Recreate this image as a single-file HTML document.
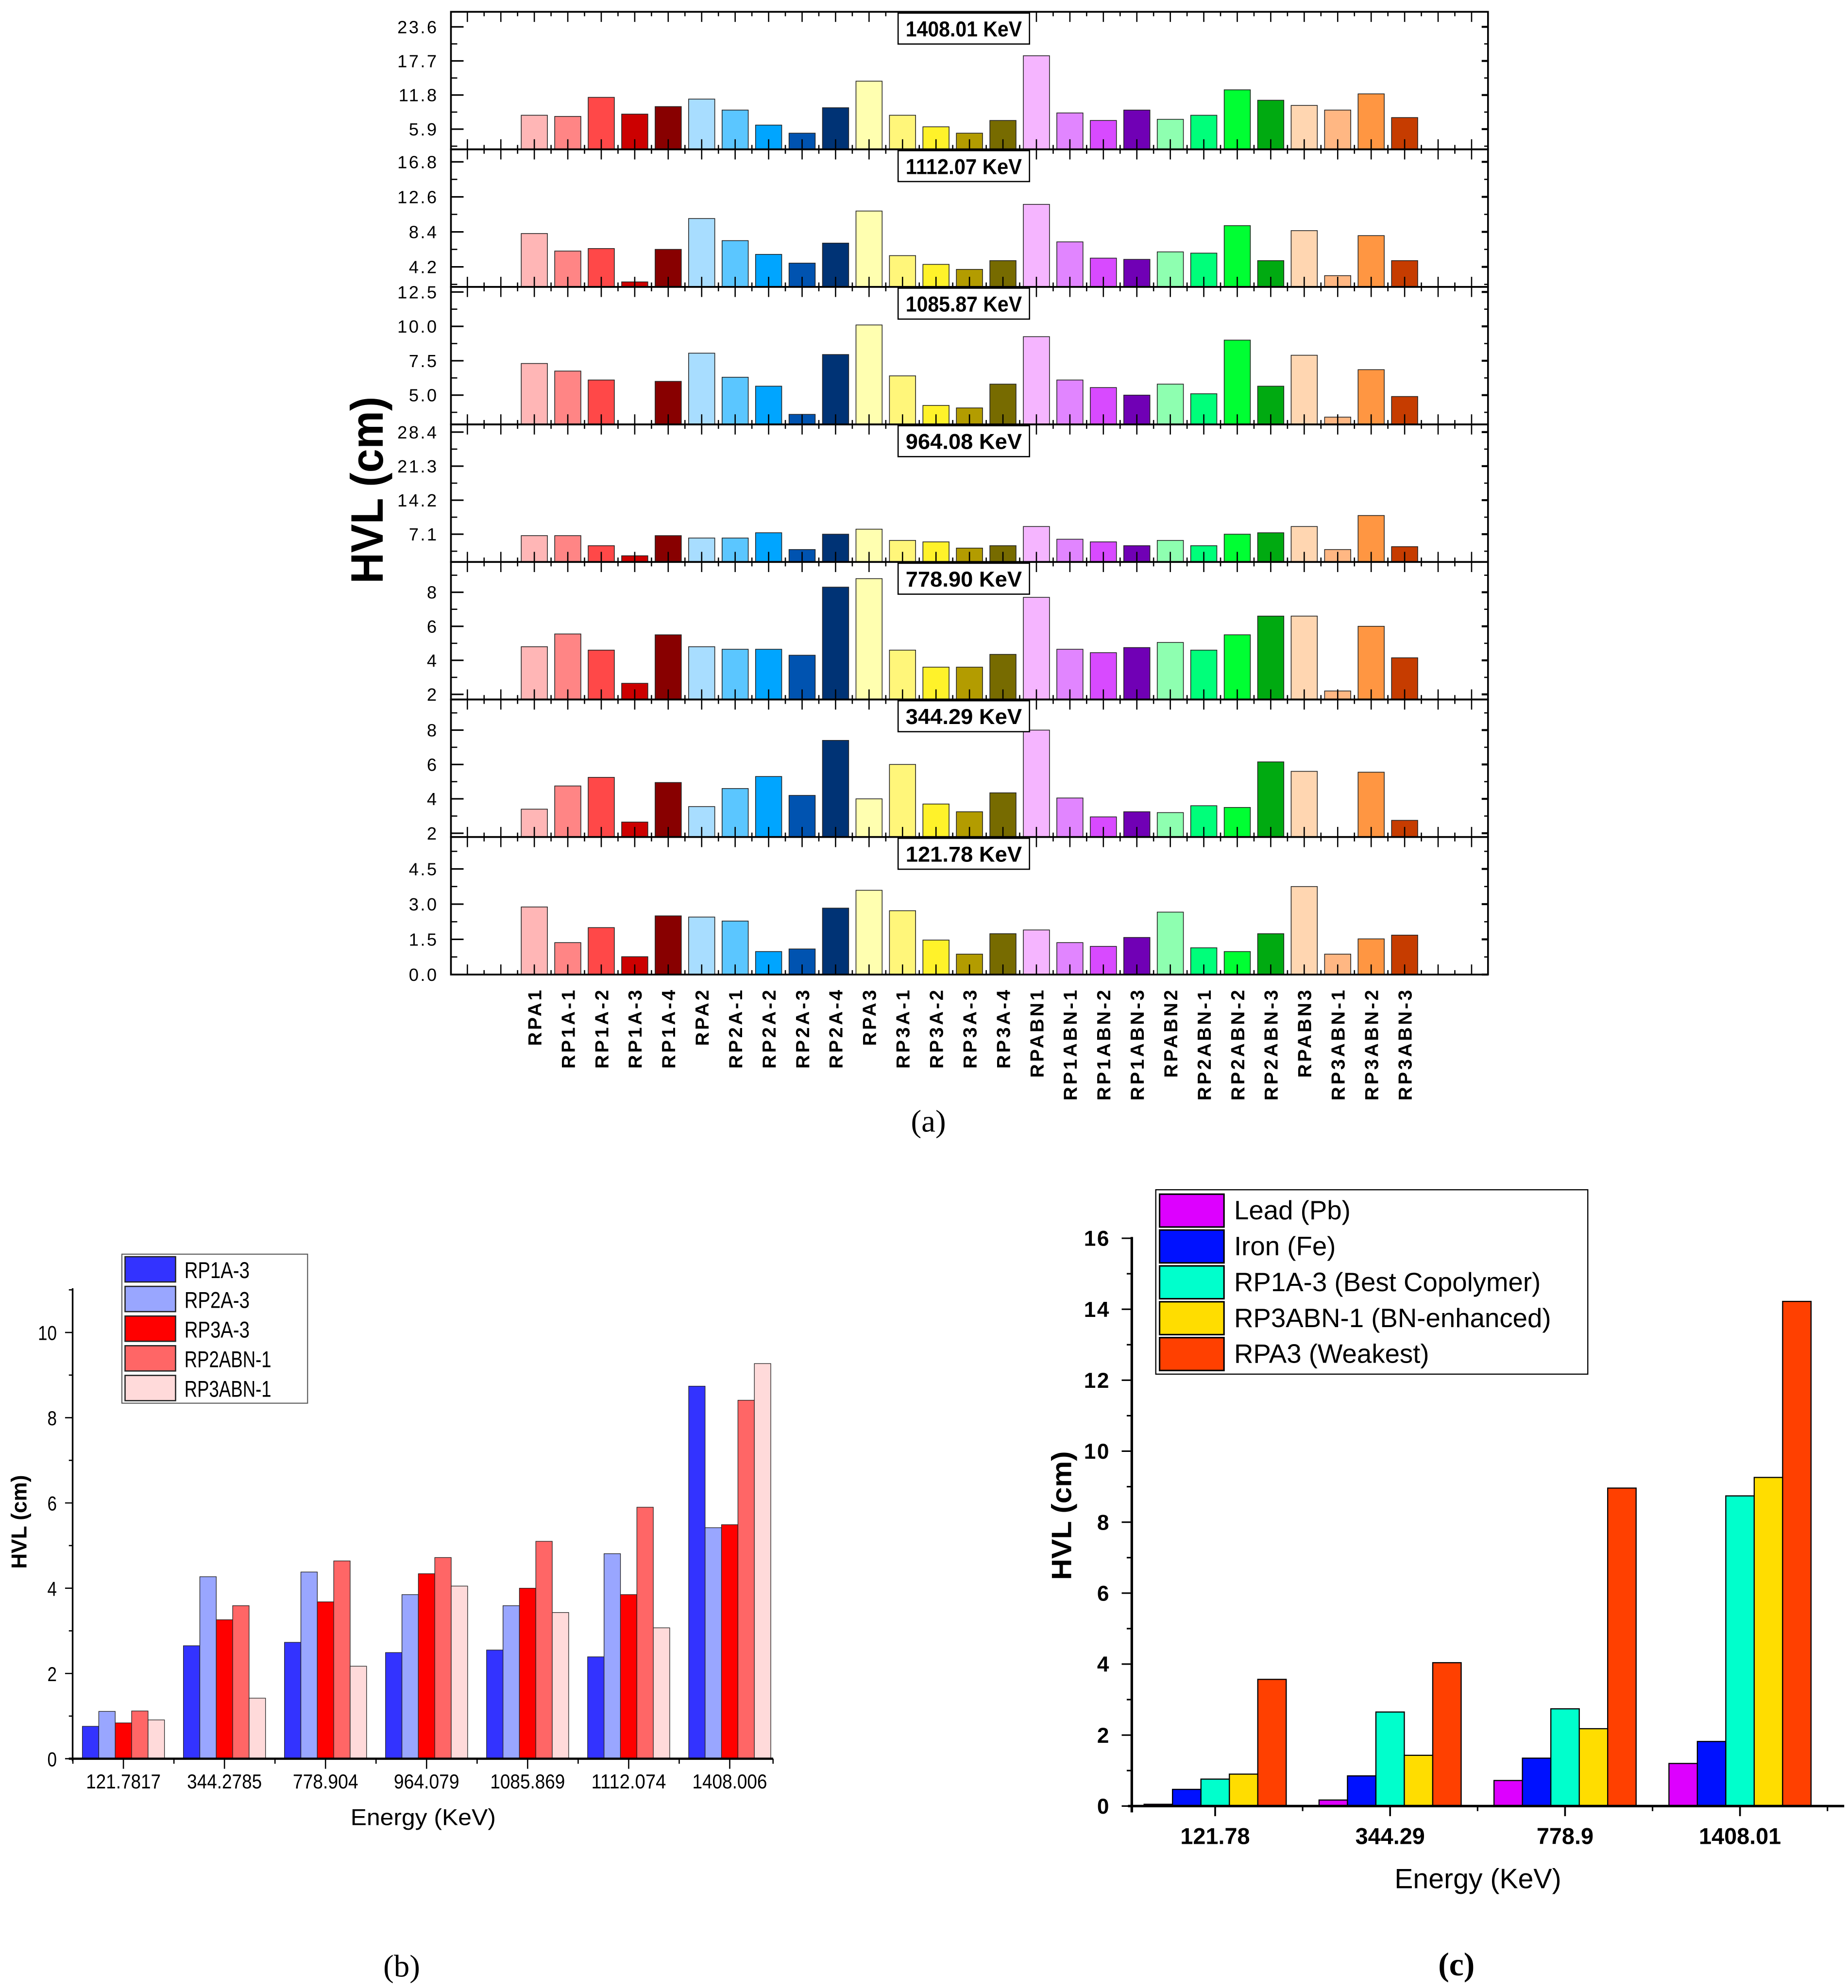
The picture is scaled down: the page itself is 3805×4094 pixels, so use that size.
<!DOCTYPE html>
<html><head><meta charset="utf-8">
<style>
html,body{margin:0;padding:0;background:#fff;}
svg{display:block;}
text{font-family:"Liberation Sans",sans-serif;fill:#000;}
</style></head>
<body>
<svg id="fig" xmlns="http://www.w3.org/2000/svg" width="3805" height="4094" viewBox="0 0 1463 1574">
<rect x="0" y="0" width="1463" height="1574" fill="#fff"/>
</svg>
<script>
// ---------- Panel (a) data ----------
const catsA = ["RPA1","RP1A-1","RP1A-2","RP1A-3","RP1A-4","RPA2","RP2A-1","RP2A-2","RP2A-3","RP2A-4","RPA3","RP3A-1","RP3A-2","RP3A-3","RP3A-4","RPABN1","RP1ABN-1","RP1ABN-2","RP1ABN-3","RPABN2","RP2ABN-1","RP2ABN-2","RP2ABN-3","RPABN3","RP3ABN-1","RP3ABN-2","RP3ABN-3"];
const colorsA = ["#ffb6b6","#ff8585","#ff4848","#cc0000","#880000","#a8ddff","#5bc6ff","#00a5ff","#0053b0","#003375","#ffffb0","#fff67a","#fff22a","#b39c00","#776b00","#f5b5ff","#e185ff","#d84aff","#7000b5","#8effb0","#00ff7a","#00ff33","#00aa11","#ffd6b1","#ffb783","#ff9642","#c63c00"];
const panelTitles = ["1408.01 KeV","1112.07 KeV","1085.87 KeV","964.08 KeV","778.90 KeV","344.29 KeV","121.78 KeV"];
const panelMin = [2.4, 1.8, 2.87, 1.31, 1.7, 1.78, 0];
const panelMax = [26.2, 18.3, 12.87, 30.0, 9.78, 9.78, 5.86];
const ticks0 = ["5.9","11.8","17.7","23.6"];
const ticks1 = ["4.2","8.4","12.6","16.8"];
const ticks2 = ["5.0","7.5","10.0","12.5"];
const ticks3 = ["7.1","14.2","21.3","28.4"];
const ticks4 = ["2","4","6","8"];
const ticks5 = ["2","4","6","8"];
const ticks6 = ["0.0","1.5","3.0","4.5"];
const vals1408 = [8.3,8.1,11.4,8.5,9.8,11.1,9.2,6.6,5.2,9.6,14.2,8.3,6.3,5.2,7.4,18.6,8.7,7.4,9.2,7.6,8.3,12.7,10.9,10.0,9.2,12.0,7.9];
const vals1112 = [8.2,6.1,6.4,2.4,6.3,10.0,7.35,5.7,4.65,7.05,10.9,5.55,4.5,3.9,4.95,11.7,7.2,5.25,5.1,6.0,5.85,9.15,4.95,8.55,3.15,7.95,4.95];
const vals1085 = [7.3,6.75,6.1,2.5,6.0,8.05,6.3,5.65,3.6,7.95,10.1,6.4,4.25,4.07,5.8,9.25,6.1,5.55,5.0,5.8,5.1,9.0,5.65,7.9,3.4,6.85,4.9];
const vals964 = [6.8,6.8,4.7,2.6,6.8,6.3,6.3,7.4,3.9,7.1,8.15,5.8,5.5,4.2,4.7,8.7,6.05,5.5,4.7,5.8,4.7,7.1,7.4,8.7,3.9,11.0,4.5];
const vals778 = [4.8,5.55,4.6,2.65,5.5,4.8,4.65,4.65,4.3,8.3,8.8,4.6,3.6,3.6,4.35,7.7,4.65,4.45,4.75,5.05,4.6,5.5,6.6,6.6,2.2,6.0,4.15];
const vals344 = [3.4,4.75,5.25,2.65,4.95,3.55,4.6,5.3,4.2,7.4,4.0,6.0,3.7,3.25,4.35,8.0,4.05,2.95,3.25,3.2,3.6,3.5,6.15,5.6,1.5,5.55,2.75];
const vals121 = [2.88,1.36,2.0,0.76,2.5,2.45,2.28,0.98,1.09,2.83,3.59,2.72,1.47,0.87,1.74,1.9,1.36,1.2,1.58,2.66,1.14,0.98,1.74,3.75,0.87,1.52,1.68];

// ---------- Panel (b) data ----------
const energiesB = ["121.7817","344.2785","778.904","964.079","1085.869","1112.074","1408.006"];
const seriesBNames = ["RP1A-3","RP2A-3","RP3A-3","RP2ABN-1","RP3ABN-1"];
const seriesBColors = ["#3333ff","#99a6ff","#ff0000","#ff6666","#ffdada"];
const bRP1A3 = [0.76,2.65,2.73,2.49,2.55,2.39,8.74];
const bRP2A3 = [1.11,4.27,4.38,3.85,3.59,4.81,5.42];
const bRP3A3 = [0.84,3.26,3.68,4.34,4.0,3.85,5.49];
const bRP2ABN1 = [1.12,3.59,4.64,4.72,5.1,5.9,8.41];
const bRP3ABN1 = [0.91,1.42,2.17,4.05,3.43,3.07,9.27];
const ticksB = ["0","2","4","6","8","10"];

// ---------- Panel (c) data ----------
const energiesC = ["121.78","344.29","778.9","1408.01"];
const seriesCNames = ["Lead (Pb)","Iron (Fe)","RP1A-3 (Best Copolymer)","RP3ABN-1 (BN-enhanced)","RPA3 (Weakest)"];
const seriesCColors = ["#dd00ff","#0011ff","#00ffcc","#ffdd00","#ff4000"];
const cLead = [0.05,0.17,0.72,1.2];
const cIron = [0.47,0.85,1.35,1.82];
const cRP1A3 = [0.76,2.65,2.74,8.74];
const cRP3ABN1 = [0.9,1.43,2.18,9.26];
const cRPA3 = [3.57,4.04,8.96,14.22];
const ticksC = ["0","2","4","6","8","10","12","14","16"];

const NS = "http://www.w3.org/2000/svg";
const svg = document.getElementById("fig");
function mk(tag, attrs, parent, txt){
  const e = document.createElementNS(NS, tag);
  for (const k in attrs) e.setAttribute(k, attrs[k]);
  if (txt !== undefined) e.textContent = txt;
  (parent || svg).appendChild(e);
  return e;
}
function line(x1,y1,x2,y2,w,parent){ return mk("line",{x1,y1,x2,y2,stroke:"#000","stroke-width":w},parent); }

// ================= Panel (a) =================
(function(){
  const g = mk("g",{});
  
  
  const L = 357, R = 1178, T = 9.3, PH = 108.9;
  const x0 = 423, dx = 26.5, bw = 20.7;
  const xA = i => x0 + i*dx;
  const allVals = [vals1408,vals1112,vals1085,vals964,vals778,vals344,vals121];
  const allTicks = [ticks0,ticks1,ticks2,ticks3,ticks4,ticks5,ticks6];
  for (let p=0;p<7;p++){
    const top = T + p*PH, bot = top + PH;
    const yS = v => bot - (v - panelMin[p])/(panelMax[p]-panelMin[p])*PH;
    const pg = mk("g",{},g);
    
    
    allVals[p].forEach((v,i)=>{
      const yt = Math.max(yS(v), top);
      if (yt >= bot) return;
      const r = mk("rect",{x:xA(i)-bw/2,y:yt,width:bw,height:bot-yt,fill:colorsA[i],stroke:"#222","stroke-width":0.6},pg);
      
      
    });
    for (let k=-3;k<=29;k++){
      const xx = xA(k);
      if (xx < L || xx > R) continue;
      line(xx,top,xx,top+8,1,pg); line(xx,bot,xx,bot-8,1,pg);
      const xm = xx + dx/2;
      if (xm < R){ line(xm,top,xm,top+3.5,1,pg); line(xm,bot,xm,bot-3.5,1,pg); }
    }
    allTicks[p].forEach(t=>{
      const v = parseFloat(t), yy = yS(v);
      line(L,yy,L+10,yy,1.2,pg); line(R,yy,R-5,yy,1.6,pg);
      const lab = mk("text",{x:347,y:yy+5,"text-anchor":"end","font-size":14,"letter-spacing":1.3},pg,t);
      
      
    });
    const tv = allTicks[p].map(parseFloat), step = tv[1]-tv[0];
    for (let v = tv[0]-step/2; v < panelMax[p]; v += step){
      const yy = yS(v); if (yy<=top+1||yy>=bot-1) continue;
      line(L,yy,L+5,yy,1,pg); line(R,yy,R-3,yy,1,pg);
    }
    mk("rect",{x:L,y:top,width:R-L,height:PH,fill:"none",stroke:"#000","stroke-width":1.4},pg);
    const tb = mk("rect",{x:711,y:top+1,width:104,height:24.5,fill:"#fff",stroke:"#000","stroke-width":1},pg);
    
    
    const tt = mk("text",{x:763,y:top+19.5,"text-anchor":"middle","font-size":17,"font-weight":"bold",textLength:92,lengthAdjust:"spacingAndGlyphs"},pg,panelTitles[p]);
    
    
  }
  catsA.forEach((c,i)=>{
    const t = mk("text",{x:0,y:0,transform:`translate(${xA(i)+5.5},782) rotate(-90)`,"text-anchor":"end","font-size":15,"font-weight":"bold","letter-spacing":1.8},g,c);
    
    
  });
  const yt = mk("text",{x:0,y:0,transform:"translate(303,388) rotate(-90)","text-anchor":"middle","font-size":36,"font-weight":"bold",textLength:148,lengthAdjust:"spacingAndGlyphs"},g,"HVL (cm)");
  
  
  const cap = mk("text",{x:735,y:896,"text-anchor":"middle","font-size":25,style:"font-family:'Liberation Serif',serif"},g,"(a)");
  
  
})();

// ================= Panel (b) =================
(function(){
  const g = mk("g",{});
  
  
  const L = 57.5, R = 612, Y0 = 1392.5, ppu = 33.75, TOP = 1020;
  const y = v => Y0 - v*ppu;
  const gx0 = 97.7, gdx = 80, bw = 13;
  const xg = i => gx0 + i*gdx;
  const series = [bRP1A3,bRP2A3,bRP3A3,bRP2ABN1,bRP3ABN1];
  series.forEach((arr,s)=>{
    arr.forEach((v,i)=>{
      const x = xg(i) + (s-2.5)*bw;
      const r = mk("rect",{x:x,y:y(v),width:bw,height:v*ppu,fill:seriesBColors[s],stroke:"#222","stroke-width":0.5},g);
      
      
    });
  });
  line(L,TOP,L,Y0+2,1.3,g); line(L-3,Y0,R,Y0,1.8,g);
  ticksB.forEach(t=>{
    const v = parseFloat(t);
    line(L-6,y(v),L,y(v),1,g);
    line(L-3,y(v+1),L,y(v+1),1,g);
    const lab = mk("text",{x:45,y:y(v)+6,"text-anchor":"end","font-size":16,textLength:t.length*7.5,lengthAdjust:"spacingAndGlyphs"},g,t);
    
    
  });
  energiesB.forEach((e,i)=>{
    line(xg(i),Y0,xg(i),Y0+8,1,g);
    line(xg(i)-gdx/2,Y0,xg(i)-gdx/2,Y0+4,1,g);
    const lab = mk("text",{x:xg(i),y:1416,"text-anchor":"middle","font-size":16,textLength:e.length*7.4,lengthAdjust:"spacingAndGlyphs"},g,e);
    
    
  });
  line(R,Y0,R,Y0+4,1,g);
  const xt = mk("text",{x:335,y:1445,"text-anchor":"middle","font-size":18,textLength:115,lengthAdjust:"spacingAndGlyphs"},g,"Energy (KeV)");
  
  
  const yt = mk("text",{x:0,y:0,transform:"translate(21,1205) rotate(-90)","text-anchor":"middle","font-size":17,"font-weight":"bold"},g,"HVL (cm)");
  
  
  const lg = mk("g",{},g);
  
  
  mk("rect",{x:96.5,y:993,width:147,height:118,fill:"#fff",stroke:"#555","stroke-width":0.8},lg);
  seriesBNames.forEach((n,i)=>{
    const yy = 995 + i*23.5;
    const sw = mk("rect",{x:99,y:yy,width:40,height:20,fill:seriesBColors[i],stroke:"#222","stroke-width":1},lg);
    
    
    const t = mk("text",{x:146,y:yy+17,"font-size":18,textLength:n.length*8.6,lengthAdjust:"spacingAndGlyphs"},lg,n);
    
    
  });
  const cap = mk("text",{x:318,y:1565,"text-anchor":"middle","font-size":25,style:"font-family:'Liberation Serif',serif"},g,"(b)");
  
  
})();

// ================= Panel (c) =================
(function(){
  const g = mk("g",{});
  
  
  const L = 896, R = 1460, Y0 = 1430, ppu = 28.1;
  const y = v => Y0 - v*ppu;
  const gx0 = 962, gdx = 138.5, bw = 22.5;
  const xg = i => gx0 + i*gdx;
  const series = [cLead,cIron,cRP1A3,cRP3ABN1,cRPA3];
  series.forEach((arr,s)=>{
    arr.forEach((v,i)=>{
      const x = xg(i) + (s-2.5)*bw;
      const r = mk("rect",{x:x,y:y(v),width:bw,height:v*ppu,fill:seriesCColors[s],stroke:"#000","stroke-width":0.9},g);
      
      
    });
  });
  line(L,y(16)-1,L,Y0+5,2,g); line(L-3,Y0,R,Y0,2,g);
  ticksC.forEach(t=>{
    const v = parseFloat(t);
    line(L-8,y(v),L,y(v),1.2,g);
    if (v<16) line(L-4,y(v+1),L,y(v+1),1.2,g);
    const lab = mk("text",{x:879,y:y(v)+6,"text-anchor":"end","font-size":17,"font-weight":"bold","letter-spacing":1},g,t);
    
    
  });
  energiesC.forEach((e,i)=>{
    line(xg(i),Y0,xg(i),Y0+8,1.4,g);
    line(xg(i)+gdx/2,Y0,xg(i)+gdx/2,Y0+4,1.2,g);
    const lab = mk("text",{x:xg(i),y:1460,"text-anchor":"middle","font-size":18,"font-weight":"bold"},g,e);
    
    
  });
  const xt = mk("text",{x:1170,y:1495,"text-anchor":"middle","font-size":22},g,"Energy (KeV)");
  
  
  const yt = mk("text",{x:0,y:0,transform:"translate(848,1200) rotate(-90)","text-anchor":"middle","font-size":22,"font-weight":"bold",textLength:102,lengthAdjust:"spacingAndGlyphs"},g,"HVL (cm)");
  
  
  const lg = mk("g",{},g);
  
  
  mk("rect",{x:915,y:942,width:342,height:146,fill:"#fff",stroke:"#000","stroke-width":0.9},lg);
  seriesCNames.forEach((n,i)=>{
    const yy = 945.5 + i*28.4;
    const sw = mk("rect",{x:918,y:yy,width:51,height:26,fill:seriesCColors[i],stroke:"#000","stroke-width":1.2},lg);
    
    
    const t = mk("text",{x:977,y:yy+20,"font-size":21},lg,n);
    
    
  });
  const cap = mk("text",{x:1153,y:1564,"text-anchor":"middle","font-size":26,"font-weight":"bold",style:"font-family:'Liberation Serif',serif"},g,"(c)");
  
  
})();
</script>
</body></html>
